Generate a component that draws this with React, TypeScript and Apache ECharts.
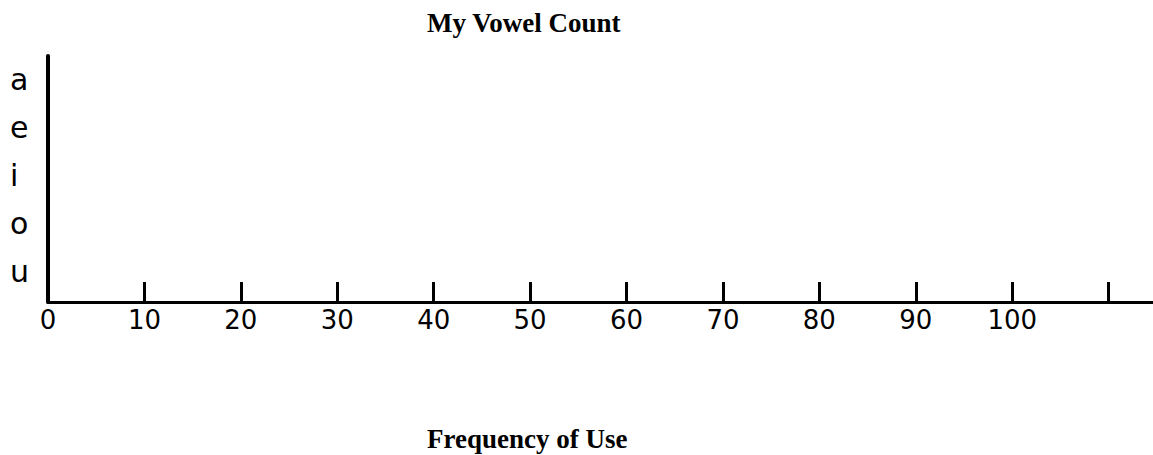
import { useEffect, useRef } from 'react';
import * as echarts from 'echarts';

const chartTitle = 'My Vowel Count';
const axisTitle = 'Frequency of Use';
const vowels = ['a', 'e', 'i', 'o', 'u'];
// The template is empty: no bar has been filled in yet.
const counts: (number | null)[] = [null, null, null, null, null];
const xTickValues = [10, 20, 30, 40, 50, 60, 70, 80, 90, 100, 110];
const xLabelValues = [0, 10, 20, 30, 40, 50, 60, 70, 80, 90, 100];
const xMin = 0;
const xMax = 114.6;

export default function App() {
  const ref = useRef<HTMLDivElement>(null);

  useEffect(() => {
    if (!ref.current) return;
    const chart = echarts.init(ref.current, undefined, { renderer: 'svg' });
    chart.setOption({
      animation: false,
      backgroundColor: '#ffffff',
      title: [
        {
          text: chartTitle,
          left: 427,
          top: 9,
          padding: 0,
          textStyle: { fontFamily: '"Liberation Serif", serif', fontWeight: 'bold', fontSize: 27, color: '#000' },
        },
        {
          text: axisTitle,
          left: 427,
          top: 425,
          padding: 0,
          textStyle: { fontFamily: '"Liberation Serif", serif', fontWeight: 'bold', fontSize: 27, color: '#000' },
        },
      ],
      grid: [
        { left: 48, top: 55, width: 1105, height: 240 },
        { left: 48, top: 56, width: 1105, height: 246 },
      ],
      xAxis: [
        { gridIndex: 0, type: 'value', min: xMin, max: xMax, show: false },
        {
          gridIndex: 1,
          type: 'value',
          min: xMin,
          max: xMax,
          interval: 10,
          splitLine: { show: false },
          axisLine: { show: true, onZero: false, lineStyle: { color: '#000', width: 3 } },
          axisTick: { show: true, inside: true, length: 20, customValues: xTickValues, lineStyle: { color: '#000', width: 3 } },
          axisLabel: { customValues: xLabelValues, margin: 5, color: '#000', fontSize: 26, fontFamily: '"DejaVu Sans", sans-serif' },
        },
      ],
      yAxis: [
        {
          gridIndex: 0,
          type: 'category',
          inverse: true,
          data: vowels,
          axisLine: { show: false },
          axisTick: { show: false },
          splitLine: { show: false },
          axisLabel: { align: 'left', margin: 38, fontSize: 30, color: '#000', fontFamily: '"DejaVu Sans", sans-serif' },
        },
        {
          gridIndex: 1,
          type: 'value',
          min: 0,
          max: 1,
          axisLine: { show: true, onZero: false, lineStyle: { color: '#000', width: 4 } },
          axisTick: { show: false },
          axisLabel: { show: false },
          splitLine: { show: false },
        },
      ],
      series: [
        { type: 'bar', xAxisIndex: 0, yAxisIndex: 0, data: counts, itemStyle: { color: '#000' } },
      ],
    });
    return () => chart.dispose();
  }, []);

  return (
    <div
      ref={ref}
      style={{ position: 'absolute', left: 0, top: 0, width: 1153, height: 455, background: '#fff' }}
    />
  );
}
